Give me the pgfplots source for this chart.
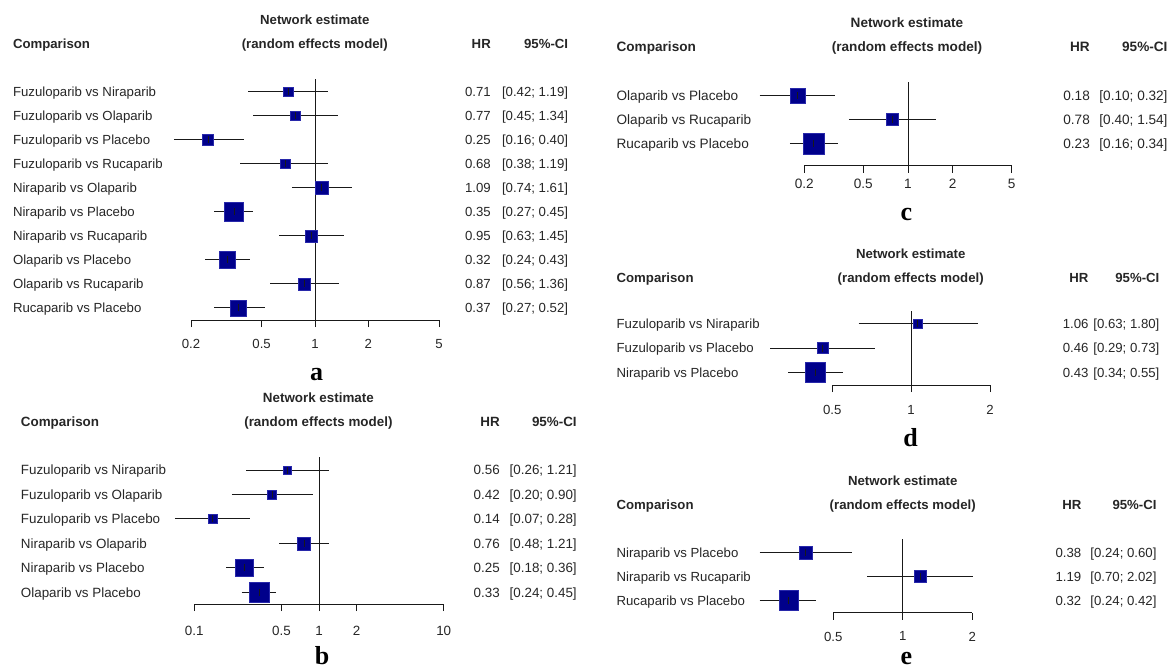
\documentclass[border=0pt]{standalone}
\usepackage{pgfplots}
\pgfplotsset{compat=1.18}
\usepackage{pgfplotstable}
\usepackage{fontspec}
\setmainfont{Liberation Sans}
\newfontfamily\letterfont{Liberation Serif}
\definecolor{sq}{RGB}{0,0,139}
\definecolor{sqe}{RGB}{40,40,170}
\definecolor{ln}{RGB}{25,25,25}

% per-panel data: y = -row, hr, lo, hi, s = half side of square (px)
\pgfplotstableread{
y hr lo hi s
-1 0.71 0.42 1.19 4.9
-2 0.77 0.45 1.34 4.9
-3 0.25 0.16 0.40 5.45
-4 0.68 0.38 1.19 4.7
-5 1.09 0.74 1.61 6.8
-6 0.35 0.27 0.45 9.6
-7 0.95 0.63 1.45 5.85
-8 0.32 0.24 0.43 8.3
-9 0.87 0.56 1.36 5.85
-10 0.37 0.27 0.52 7.9
}\tA
\pgfplotstableread{
y hr lo hi s
-1 0.56 0.26 1.21 4.15
-2 0.42 0.20 0.90 4.35
-3 0.14 0.07 0.28 4.7
-4 0.76 0.48 1.21 6.6
-5 0.25 0.18 0.36 8.85
-6 0.33 0.24 0.45 10.15
}\tB
\pgfplotstableread{
y hr lo hi s
-1 0.18 0.10 0.32 7.25
-2 0.78 0.40 1.54 6.0
-3 0.23 0.16 0.34 10.5
}\tC
\pgfplotstableread{
y hr lo hi s
-1 1.06 0.63 1.80 4.35
-2 0.46 0.29 0.73 5.45
-3 0.43 0.34 0.55 10.0
}\tD
\pgfplotstableread{
y hr lo hi s
-1 0.38 0.24 0.60 6.35
-2 1.19 0.70 2.02 5.8
-3 0.32 0.24 0.42 9.8
}\tE

\pgfplotsset{
  /pgfplots/forestax/.style={scale only axis, clip=false,
    enlargelimits=false, axis x line*=bottom, axis y line=none,
    x axis line style={-, line width=1pt, ln},
    tick align=outside, major tick length=7pt,
    xtick style={line width=1pt, ln}, ytick=\empty,
    xminorticks=false,
    xticklabel style={anchor=north, inner sep=0pt, text=black!85},
    anchor=south west},
  /pgfplots/refline/.style={ln, line width=1pt, mark=none, forget plot},
  /pgfplots/ciline/.style={ln, line width=1pt, mark=none, unbounded coords=jump, forget plot},
  /pgfplots/sqplot/.style={only marks, scatter, mark=square*, forget plot,
    scatter/use mapped color={draw=sqe, fill=sq},
    mark options={line width=0.5pt},
    visualization depends on={\thisrow{s} \as \sz},
    scatter/@pre marker code/.append style={/tikz/mark size=\sz pt}},
  /pgfplots/estmark/.style={only marks, mark=|, mark size=3.5pt, ln,
    mark options={line width=0.7pt}, forget plot},
}

\newcommand\fa{\fontsize{13.2pt}{15pt}\selectfont}
\newcommand\fb{\fontsize{13.4pt}{15pt}\selectfont}
\newcommand\fc{\fontsize{13.6pt}{15pt}\selectfont}
\newcommand\flet{\fontsize{26pt}{28pt}\selectfont\letterfont\bfseries}
% \row{xlabel}{xhr}{xci}{baseline}{label}{hr}{ci}
\newcommand\row[7]{%
  \node[anchor=base west, inner sep=0pt] at (#1pt,-#4pt) {#5};%
  \node[anchor=base east, inner sep=0pt] at (#2pt,-#4pt) {#6};%
  \node[anchor=base east, inner sep=0pt] at (#3pt,-#4pt) {#7};}
% \head{xlabel}{xcenter}{xhr}{xci}{base1}{base2}{font}
\newcommand\head[7]{%
  \node[anchor=base, inner sep=0pt, font=#7\bfseries] at (#2pt,-#5pt) {Network estimate};%
  \node[anchor=base west, inner sep=0pt, font=#7\bfseries] at (#1pt,-#6pt) {Comparison};%
  \node[anchor=base, inner sep=0pt, font=#7\bfseries] at (#2pt,-#6pt) {(random effects model)};%
  \node[anchor=base east, inner sep=0pt, font=#7\bfseries] at (#3pt,-#6pt) {HR};%
  \node[anchor=base east, inner sep=0pt, font=#7\bfseries] at (#4pt,-#6pt) {95\%-CI};}

\begin{document}
\begin{tikzpicture}
\path[use as bounding box] (0pt,0pt) rectangle (1169pt,-670pt);

% ---------------- panel a ----------------
\begin{axis}[xmode=log, forestax, at={(191pt,-320pt)}, width=248pt, height=241pt,
  xmin=0.2, xmax=5, ymin=-10.5, ymax=-0.47,
  xtick={0.2,0.5,1,2,5}, xticklabels={0.2,0.5,1,2,5},
  xticklabel style={font=\fa, yshift=-12pt}]
\addplot[refline] coordinates {(1,-10.5) (1,-0.47)};
\addplot[sqplot] table[x=hr, y=y] {\tA};
\addplot[ciline] coordinates {(0.42,-1) (1.19,-1) (nan,nan) (0.45,-2) (1.34,-2) (nan,nan)
  (0.16,-3) (0.40,-3) (nan,nan) (0.38,-4) (1.19,-4) (nan,nan) (0.74,-5) (1.61,-5) (nan,nan)
  (0.27,-6) (0.45,-6) (nan,nan) (0.63,-7) (1.45,-7) (nan,nan) (0.24,-8) (0.43,-8) (nan,nan)
  (0.56,-9) (1.36,-9) (nan,nan) (0.27,-10) (0.52,-10)};
\addplot[estmark] table[x=hr, y=y] {\tA};
\end{axis}

% ---------------- panel b ----------------
\begin{axis}[xmode=log, forestax, at={(194.3pt,-604pt)}, width=249.4pt, height=146.7pt,
  xmin=0.1, xmax=10, ymin=-6.478, ymax=-0.481,
  xtick={0.1,0.5,1,2,10}, xticklabels={0.1,0.5,1,2,10},
  xticklabel style={font=\fb, yshift=-15pt}]
\addplot[refline] coordinates {(1,-6.478) (1,-0.481)};
\addplot[sqplot] table[x=hr, y=y] {\tB};
\addplot[ciline] coordinates {(0.26,-1) (1.21,-1) (nan,nan) (0.20,-2) (0.90,-2) (nan,nan)
  (0.07,-3) (0.28,-3) (nan,nan) (0.48,-4) (1.21,-4) (nan,nan) (0.18,-5) (0.36,-5) (nan,nan)
  (0.24,-6) (0.45,-6)};
\addplot[estmark] table[x=hr, y=y] {\tB};
\end{axis}

% ---------------- panel c ----------------
\begin{axis}[xmode=log, forestax, at={(804.3pt,-165.7pt)}, width=207.4pt, height=84pt,
  xmin=0.2, xmax=5, ymin=-3.937, ymax=-0.408,
  xtick={0.2,0.5,1,2,5}, xticklabels={0.2,0.5,1,2,5},
  xticklabel style={font=\fc, yshift=-6pt}]
\addplot[refline] coordinates {(1,-3.937) (1,-0.408)};
\addplot[sqplot] table[x=hr, y=y] {\tC};
\addplot[ciline] coordinates {(0.10,-1) (0.32,-1) (nan,nan) (0.40,-2) (1.54,-2) (nan,nan)
  (0.16,-3) (0.34,-3)};
\addplot[estmark] table[x=hr, y=y] {\tC};
\end{axis}

% ---------------- panel d ----------------
\begin{axis}[xmode=log, forestax, at={(832.3pt,-385pt)}, width=157.7pt, height=74pt,
  xmin=0.5, xmax=2, ymin=-3.51, ymax=-0.49,
  xtick={0.5,1,2}, xticklabels={0.5,1,2},
  xticklabel style={font=\fa, yshift=-13pt}]
\addplot[refline] coordinates {(1,-3.51) (1,-0.49)};
\addplot[sqplot] table[x=hr, y=y] {\tD};
\addplot[ciline] coordinates {(0.63,-1) (1.80,-1) (nan,nan) (0.29,-2) (0.73,-2) (nan,nan)
  (0.34,-3) (0.55,-3)};
\addplot[estmark] table[x=hr, y=y] {\tD};
\end{axis}

% ---------------- panel e ----------------
\begin{axis}[xmode=log, forestax, at={(833.3pt,-612.7pt)}, width=139pt, height=73.4pt,
  xmin=0.5, xmax=2, ymin=-3.508, ymax=-0.45,
  xtick={0.5,1,2}, xticklabels={0.5,1,2},
  xticklabel style={font=\fa, yshift=-12pt}]
\addplot[refline] coordinates {(1,-3.508) (1,-0.45)};
\addplot[sqplot] table[x=hr, y=y] {\tE};
\addplot[ciline] coordinates {(0.24,-1) (0.60,-1) (nan,nan) (0.70,-2) (2.02,-2) (nan,nan)
  (0.24,-3) (0.42,-3)};
\addplot[estmark] table[x=hr, y=y] {\tE};
\end{axis}

% ---------------- texts ----------------
\begin{scope}[font=\fa, text=black!85]
\head{12.8}{314.8}{491}{568.3}{24.7}{48.7}{\fa}
\row{12.8}{491}{568.3}{96.4}{Fuzuloparib vs Niraparib}{0.71}{[0.42; 1.19]}
\row{12.8}{491}{568.3}{120.4}{Fuzuloparib vs Olaparib}{0.77}{[0.45; 1.34]}
\row{12.8}{491}{568.3}{144.5}{Fuzuloparib vs Placebo}{0.25}{[0.16; 0.40]}
\row{12.8}{491}{568.3}{168.5}{Fuzuloparib vs Rucaparib}{0.68}{[0.38; 1.19]}
\row{12.8}{491}{568.3}{192.5}{Niraparib vs Olaparib}{1.09}{[0.74; 1.61]}
\row{12.8}{491}{568.3}{216.5}{Niraparib vs Placebo}{0.35}{[0.27; 0.45]}
\row{12.8}{491}{568.3}{240.6}{Niraparib vs Rucaparib}{0.95}{[0.63; 1.45]}
\row{12.8}{491}{568.3}{264.6}{Olaparib vs Placebo}{0.32}{[0.24; 0.43]}
\row{12.8}{491}{568.3}{288.6}{Olaparib vs Rucaparib}{0.87}{[0.56; 1.36]}
\row{12.8}{491}{568.3}{312.6}{Rucaparib vs Placebo}{0.37}{[0.27; 0.52]}
\end{scope}

\begin{scope}[font=\fb, text=black!85]
\head{20.7}{318.4}{500}{576.9}{402.4}{426.7}{\fb}
\row{20.7}{500}{576.9}{474.7}{Fuzuloparib vs Niraparib}{0.56}{[0.26; 1.21]}
\row{20.7}{500}{576.9}{499.2}{Fuzuloparib vs Olaparib}{0.42}{[0.20; 0.90]}
\row{20.7}{500}{576.9}{523.6}{Fuzuloparib vs Placebo}{0.14}{[0.07; 0.28]}
\row{20.7}{500}{576.9}{548.1}{Niraparib vs Olaparib}{0.76}{[0.48; 1.21]}
\row{20.7}{500}{576.9}{572.5}{Niraparib vs Placebo}{0.25}{[0.18; 0.36]}
\row{20.7}{500}{576.9}{597.0}{Olaparib vs Placebo}{0.33}{[0.24; 0.45]}
\end{scope}

\begin{scope}[font=\fc, text=black!85]
\head{616.4}{907}{1090}{1167.7}{27}{51.4}{\fc}
\row{616.4}{1090}{1167.7}{100.5}{Olaparib vs Placebo}{0.18}{[0.10; 0.32]}
\row{616.4}{1090}{1167.7}{124.3}{Olaparib vs Rucaparib}{0.78}{[0.40; 1.54]}
\row{616.4}{1090}{1167.7}{148.1}{Rucaparib vs Placebo}{0.23}{[0.16; 0.34]}
\end{scope}

\begin{scope}[font=\fa, text=black!85]
\head{616.4}{910.7}{1088.7}{1159.6}{258}{282}{\fa}
\row{616.4}{1088.7}{1159.6}{328.2}{Fuzuloparib vs Niraparib}{1.06}{[0.63; 1.80]}
\row{616.4}{1088.7}{1159.6}{352.7}{Fuzuloparib vs Placebo}{0.46}{[0.29; 0.73]}
\row{616.4}{1088.7}{1159.6}{377.2}{Niraparib vs Placebo}{0.43}{[0.34; 0.55]}
\end{scope}

\begin{scope}[font=\fa, text=black!85]
\head{616.4}{902.7}{1081.5}{1156.7}{485.4}{509.7}{\fa}
\row{616.4}{1081.5}{1156.7}{557.2}{Niraparib vs Placebo}{0.38}{[0.24; 0.60]}
\row{616.4}{1081.5}{1156.7}{581.2}{Niraparib vs Rucaparib}{1.19}{[0.70; 2.02]}
\row{616.4}{1081.5}{1156.7}{605.2}{Rucaparib vs Placebo}{0.32}{[0.24; 0.42]}
\end{scope}

% panel letters
\node[anchor=base, inner sep=0pt, font=\flet] at (316.5pt,-380pt) {a};
\node[anchor=base, inner sep=0pt, font=\flet] at (322pt,-664pt) {b};
\node[anchor=base, inner sep=0pt, font=\flet] at (906.3pt,-220pt) {c};
\node[anchor=base, inner sep=0pt, font=\flet] at (910.7pt,-446.7pt) {d};
\node[anchor=base, inner sep=0pt, font=\flet] at (906.3pt,-664pt) {e};
\end{tikzpicture}
\end{document}
